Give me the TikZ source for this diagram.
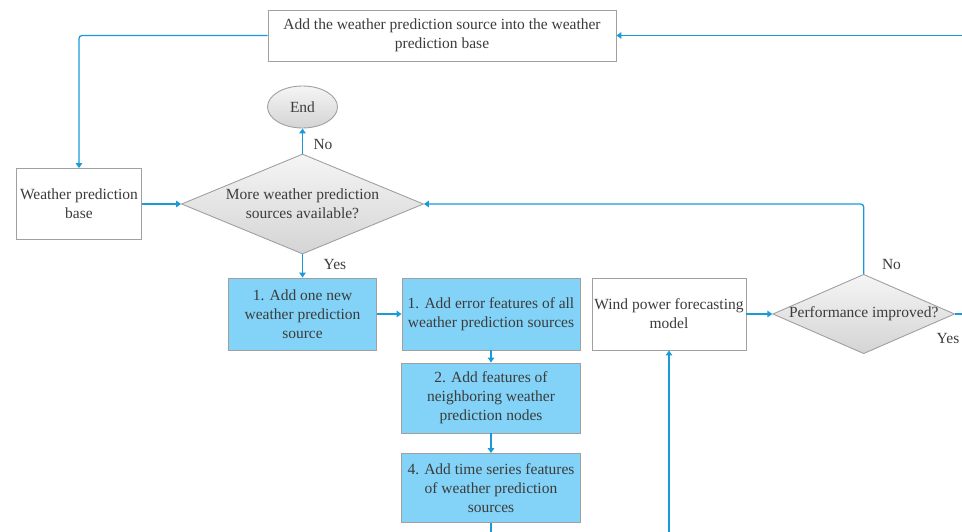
\documentclass[tikz,border=0pt]{standalone}
\usepackage{fontspec}
\setmainfont{Liberation Serif}
\usetikzlibrary{arrows.meta,shapes.geometric}
\definecolor{lineblue}{HTML}{1A9AD6}
\definecolor{boxgray}{HTML}{A0A0A0}
\definecolor{fillblue}{HTML}{82D3F7}
\definecolor{txt}{HTML}{3C3C3C}
\definecolor{dlight}{HTML}{F5F5F5}
\definecolor{ddark}{HTML}{D4D4D4}
\begin{document}
\begin{tikzpicture}[x=1pt,y=-1pt,
  every node/.style={font=\fontsize{15.5}{19}\selectfont, text=txt},
  wbox/.style={rectangle, draw=boxgray, fill=white, line width=0.9pt, align=center, inner sep=0pt},
  bbox/.style={wbox, fill=fillblue},
  dia/.style={diamond, draw=boxgray, line width=0.9pt, top color=dlight, bottom color=ddark, align=center, inner sep=0pt},
  oval/.style={ellipse, draw=boxgray, line width=0.9pt, top color=dlight, bottom color=ddark, inner sep=0pt},
  line/.style={draw=lineblue, line width=1.3pt},
  conn/.style={line, -{Triangle[length=5pt,width=6.5pt]}},
  lbl/.style={inner sep=0pt}]
\useasboundingbox (0,0) rectangle (962,532);

\node[wbox, minimum width=348, minimum height=51] (top) at (442,35.5)
  {Add the weather prediction source into the weather\\ prediction base};
\node[wbox, minimum width=125, minimum height=71] (wpb) at (79,204)
  {Weather prediction\\ base};
\node[dia, minimum width=242, minimum height=100, aspect=2.42] (more) at (302.5,204)
  {More weather prediction\\ sources available?};
\node[oval, minimum width=70, minimum height=42] (end) at (302.5,107) {End};
\node[bbox, minimum width=148, minimum height=72] (add1) at (302.5,314)
  {1. Add one new\\ weather prediction\\ source};
\node[bbox, minimum width=178, minimum height=72] (err) at (491,314)
  {1. Add error features of all\\ weather prediction sources};
\node[bbox, minimum width=179, minimum height=70] (nbr) at (491,398)
  {2. Add features of\\ neighboring weather\\ prediction nodes};
\node[bbox, minimum width=179, minimum height=69] (ts) at (491,488)
  {4. Add time series features\\ of weather prediction\\ sources};
\node[wbox, minimum width=154, minimum height=72] (wpfm) at (669,314)
  {Wind power forecasting\\ model};
\node[dia, minimum width=181, minimum height=79, aspect=2.29] (perf) at (863.7,314)
  {Performance improved?};

\coordinate (inR) at (962,35.5);
\coordinate (outR) at (962,314);
\coordinate (outB) at (491,532);
\coordinate (inB) at (669,532);

\draw[conn] (inR) -- (top.east);
\draw[conn, rounded corners=3pt] (top.west) -| (wpb.north);
\draw[conn] (wpb.east) -- (more.west);
\draw[conn] (more.north) -- (end.south);
\draw[conn] (more.south) -- (add1.north);
\draw[conn] (add1.east) -- (err.west);
\draw[conn] (err.south) -- (nbr.north);
\draw[conn] (nbr.south) -- (ts.north);
\draw[line] (ts.south) -- (outB);
\draw[conn] (inB) -- (wpfm.south);
\draw[conn] (wpfm.east) -- (perf.west);
\draw[line] (perf.east) -- (outR);
\draw[conn, rounded corners=3pt] (perf.north) |- (more.east);

\node[lbl] (no1) at (323,145) {No};
\node[lbl] (yes1) at (335,265) {Yes};
\node[lbl] (no2) at (891.5,265) {No};
\node[lbl] (yes2) at (948,338.5) {Yes};
\end{tikzpicture}
\end{document}
